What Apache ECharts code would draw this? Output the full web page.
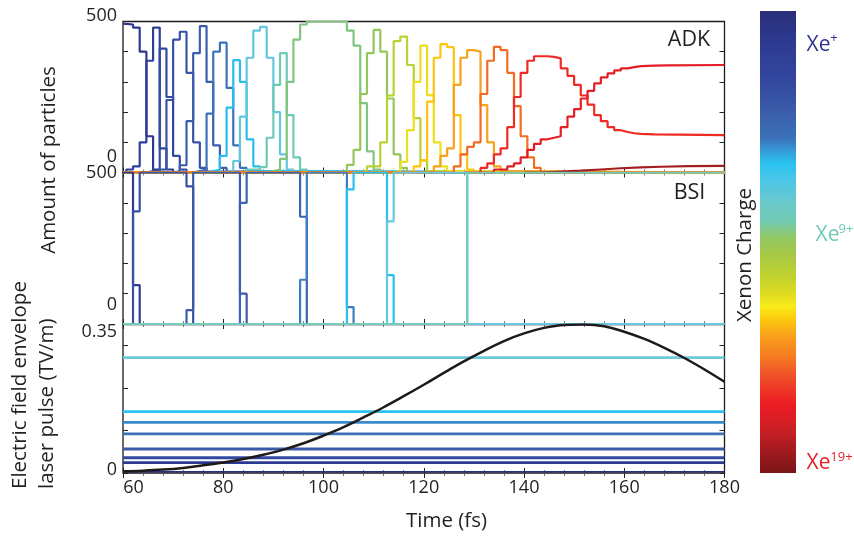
<!DOCTYPE html>
<html><head><meta charset="utf-8">
<script src="https://cdn.jsdelivr.net/npm/echarts@6/dist/echarts.min.js"></script>
<style>html,body{margin:0;padding:0;background:#fff}#c{width:854px;height:537px}</style>
</head><body><div id="c"></div>
<script>
// ---------- DATA ----------
const timeTicks = [60, 80, 100, 120, 140, 160, 180];

// ADK populations (particles) of Xe charge states, [time fs, particles]
const adk1 = [[60,492],[60.67,490],[62,480],[63.33,400],[64.67,120],[66,10],[67.33,0],[180,0]];
const adk2 = [[60,0],[60.67,10],[62,20],[63.33,100],[64.67,370],[66,480],[67.33,80],[68.67,10],[70,0],[180,0]];
const adk3 = [[60,0],[64.67,5],[66,10],[67.33,410],[68.67,250],[70,55],[71.33,10],[72.67,0],[180,0]];
const adk4 = [[60,0],[67.33,10],[68.67,240],[70,440],[71.33,466],[72.67,330],[74,100],[75.33,15],[76.67,3],[78,0],[180,0]];
const adk5 = [[60,0],[70,5],[71.33,24],[72.67,170],[74,395],[75.33,485],[76.67,300],[78,90],[79.33,15],[80.67,2],[82,0],[180,0]];
const adk6 = [[60,0],[74,5],[75.33,10],[76.67,195],[78,400],[79.33,430],[80.67,280],[82,90],[83.33,15],[84.67,3],[86,0],[180,0]];
const adk7 = [[60,0],[76.67,5],[78,10],[79.33,55],[80.67,215],[82,372],[83.33,300],[84.67,110],[86,20],[87.33,5],[88.67,0],[180,0]];
const adk8 = [[60,0],[79.33,2],[80.67,5],[82,38],[83.33,185],[84.67,380],[86,470],[87.33,482],[88.67,380],[90,200],[91.33,60],[92.67,10],[94,0],[180,0]];
const adk9 = [[60,0],[83.33,3],[84.67,10],[87.33,18],[88.67,115],[90,290],[91.33,395],[92.67,190],[94,50],[95.33,10],[96.67,0],[180,0]];
const adk10 = [[60,0],[88.67,5],[90,10],[91.33,45],[92.67,300],[94,440],[95.33,490],[96.67,500],[104.67,470],[106,420],[107.33,230],[108.67,70],[110,10],[111.33,0],[180,0]];
const adk11 = [[60,0],[103.33,5],[104.67,25],[106,75],[107.33,260],[108.67,395],[110,472],[111.33,400],[112.67,245],[114,60],[115.33,15],[116.67,0],[180,0]];
const adk12 = [[60,0],[107.33,5],[108.67,20],[111.33,100],[112.67,255],[114,435],[115.33,450],[116.67,356],[118,180],[119.33,40],[120.67,5],[122,0],[180,0]];
const adk13 = [[60,0],[114,5],[115.33,35],[116.67,140],[118,300],[119.33,420],[120.67,256],[122,100],[123.33,20],[124.67,5],[126,0],[180,0]];
const adk14 = [[60,0],[116.67,4],[118,20],[119.33,40],[120.67,235],[122,380],[123.33,425],[124.67,415],[126,190],[127.33,60],[128.67,10],[130,0],[180,0]];
const adk15 = [[60,0],[120.67,5],[122,20],[123.33,55],[124.67,80],[126,290],[127.33,380],[128.67,405],[130,400],[131.33,223],[132.67,100],[134,20],[135.33,5],[136.67,0],[180,0]];
const adk16 = [[60,0],[126,20],[127.33,60],[128.67,85],[130,100],[131.33,260],[132.67,370],[134,416],[135.33,405],[136.67,330],[138,220],[139.33,120],[140.67,50],[142,15],[143.33,0],[180,0]];
const adk17 = [[128,0],[131.33,15],[132.67,30],[134,60],[135.33,80],[136.67,150],[138,250],[139.33,330],[140.67,370],[142,385],[144.67,383],[146,378],[147.33,345],[148.67,320],[150,290],[151.33,255],[152.67,225],[154,190],[155.33,170],[156.67,150],[158,140],[159.33,134],[160.67,130],[162,128],[163.33,126],[166,124],[180,124]];
const adk18 = [[131,0],[134,10],[136.67,20],[138,30],[139.33,50],[140.67,75],[142,95],[143.33,110],[144.67,115],[146,120],[147.33,150],[148.67,185],[150,210],[151.33,245],[152.67,270],[154,295],[155.33,315],[156.67,328],[158,338],[159.33,345],[160.67,349],[162,352],[163.33,354],[166,355],[168.67,356],[180,356]];
const adk19 = [[140,0],[143.33,3],[147.33,6],[151.33,10],[155.33,14],[159.33,17],[163.33,19],[167.33,21],[172.67,22],[180,22]];

// BSI populations
const bsi1 = [[60,500],[62,128],[63.33,0],[180,0]];
const bsi2 = [[60,0],[62,372],[63.33,500],[72.67,454],[74,0],[180,0]];
const bsi3 = [[60,0],[72.67,46],[74,500],[83.33,100],[84.67,0],[180,0]];
const bsi4 = [[60,0],[83.33,400],[84.67,500],[95.33,354],[96.67,0],[180,0]];
const bsi5 = [[60,0],[95.33,146],[96.67,500],[104.67,56],[106,0],[180,0]];
const bsi6 = [[60,0],[104.67,444],[106,500],[112.67,161],[114,0],[180,0]];
const bsi7 = [[60,0],[112.67,339],[114,500],[128.67,0],[180,0]];
const bsi8 = [[60,0],[128.67,500],[180,500]];

// Electric field envelope (TV/m)
const fieldEnvelope = [[60,0.004],[64,0.0055],[68,0.008],[72,0.012],[76,0.018],[80,0.025],[84,0.033],[88,0.043],[92,0.055],[96,0.070],[100,0.088],[104,0.108],[108,0.131],[112,0.155],[116,0.181],[120,0.208],[124,0.236],[128,0.263],[132,0.288],[136,0.311],[140,0.329],[144,0.342],[148,0.349],[152,0.350],[156,0.346],[160,0.333],[164,0.316],[168,0.295],[172,0.271],[176,0.244],[180,0.215]];

// BSI threshold field levels (TV/m)
const thresholds = [0.272, 0.1445, 0.1195, 0.092, 0.0566, 0.036, 0.0243, 0.003];

// ---------- STYLE ----------
const adkCurves = [adk1,adk2,adk3,adk4,adk5,adk6,adk7,adk8,adk9,adk10,adk11,adk12,adk13,adk14,adk15,adk16,adk17,adk18,adk19];
const adkColors = ['#2b3990','#2e3f97','#3349a0','#3853a5','#3a5eab','#3b72b8','#29bdee','#63c6df','#6ec9b6','#80c57e','#94c75a','#b8d233','#ece01c','#fcc40f','#f8a01b','#f36c21','#ee2a25','#e21f26','#a31d21'];
const bsiCurves = [bsi1,bsi2,bsi3,bsi4,bsi5,bsi6,bsi7,bsi8];
const bsiColors = ['#2e3a91','#3850a3','#3b5aa9','#3c63af','#3a7fc2','#2bbfee','#66c7e0','#72cbbb'];
const thresholdColors = ['#6ccadd','#2cc2ef','#3a8bcb','#3d6eb6','#3b5aa8','#3349a0','#2b3990','#262f80'];

const FONT = "'Open Sans', 'Noto Sans', sans-serif";
const TXT = '#231f20';

const grids = [
  {left:123, right:129.5, top:21.5, height:151},
  {left:123, right:129.5, top:172.5, height:151.5},
  {left:123, right:129.5, top:324.5, height:148.5}
].map(g => Object.assign(g, {show:true, borderColor:'#1a1a1a', borderWidth:1.3, backgroundColor:'transparent'}));

function xAxisFor(gi, pos, labels) {
  return {
    type:'value', gridIndex:gi, position:pos, min:60, max:180, interval:20,
    axisLine:{show:false}, splitLine:{show:false},
    axisTick:{show:true, inside:true, length:5, lineStyle:{color:'#222', width:1}},
    minorTick:{show:true, splitNumber:5, length:3, lineStyle:{color:'#555', width:0.8}},
    axisLabel:{show:labels, margin:6, color:TXT, fontFamily:FONT, fontSize:18,
      formatter: v => v === timeTicks[0] ? '{l|60}' : String(v),
      rich:{l:{padding:[0,0,0,21], fontFamily:FONT, fontSize:18, color:TXT}}}
  };
}
function yAxisFor(gi, pos, max, interval, labels, fmt, rich) {
  return {
    type:'value', gridIndex:gi, position:pos, min:0, max:max, interval:interval,
    axisLine:{show:false}, splitLine:{show:false},
    axisTick:{show:true, inside:true, length:5, lineStyle:{color:'#222', width:1}},
    axisLabel:{show:labels, margin:6, color:TXT, fontFamily:FONT, fontSize:18,
      showMinLabel:true, showMaxLabel:true, formatter:fmt, rich:rich}
  };
}
const r = (p) => ({padding:p, fontFamily:FONT, fontSize:18, color:TXT});

const xAxes = [
  xAxisFor(0,'bottom',false), xAxisFor(0,'top',false),
  xAxisFor(1,'bottom',false), xAxisFor(1,'top',false),
  xAxisFor(2,'bottom',true),  xAxisFor(2,'top',false)
];
const yAxes = [
  yAxisFor(0,'left',500,100,true, v => v===500?'{a|500}':(v===0?'{b|0}':''), {a:r([0,0,11,0]), b:r([0,0,31,0])}),
  yAxisFor(0,'right',500,100,false),
  yAxisFor(1,'left',500,100,true, v => v===500?'{a|500}':(v===0?'{b|0}':''), {a:r([0,0,0,0]), b:r([0,0,39,0])}),
  yAxisFor(1,'right',500,100,false),
  yAxisFor(2,'left',0.35,0.1,true, v => Math.abs(v-0.35)<1e-6?'{a|0.35}':(v===0?'{b|0}':''), {a:r([14,0,0,0]), b:r([0,0,6,0])}),
  yAxisFor(2,'right',0.35,0.1,false)
];

const series = [];
adkCurves.forEach((d,i) => series.push({type:'line', step:'end', data:d, xAxisIndex:0, yAxisIndex:0,
  showSymbol:false, symbol:'none', lineStyle:{width:2.2, color:adkColors[i]}, itemStyle:{color:adkColors[i]}, silent:true}));
bsiCurves.forEach((d,i) => series.push({type:'line', step:'end', data:d, xAxisIndex:2, yAxisIndex:2,
  showSymbol:false, symbol:'none', lineStyle:{width:2.2, color:bsiColors[i]}, itemStyle:{color:bsiColors[i]}, silent:true}));
thresholds.forEach((v,i) => series.push({type:'line', data:[[60,v],[180,v]], xAxisIndex:4, yAxisIndex:4,
  showSymbol:false, symbol:'none', lineStyle:{width: i===thresholds.length-1?1.6:2.8, color:thresholdColors[i]}, silent:true}));
series.push({type:'line', data:fieldEnvelope, smooth:0.4, xAxisIndex:4, yAxisIndex:4,
  showSymbol:false, symbol:'none', lineStyle:{width:2.5, color:'#1f1a17'}, silent:true});

const cbStops = [
  [0.00,'#2a2e78'],[0.07,'#2d3a92'],[0.15,'#33479e'],[0.21,'#3a5aa8'],[0.275,'#3b72b8'],[0.30,'#3696d6'],
  [0.33,'#2ac2f0'],[0.37,'#4fc6e6'],[0.42,'#6ccac8'],[0.455,'#72cbb3'],[0.49,'#91c864'],[0.53,'#a7c943'],
  [0.586,'#c8d42a'],[0.62,'#e6df1e'],[0.64,'#f8eb18'],[0.67,'#fcc60f'],[0.707,'#f89c1c'],[0.745,'#f57e20'],
  [0.78,'#f05a29'],[0.816,'#ee3a26'],[0.853,'#ec1c24'],[0.91,'#c81f25'],[0.96,'#9a1a1e'],[1.00,'#7b1517']
];

const T = (text, x, y, size, color, extra) => Object.assign({type:'text', x:x, y:y, silent:true,
  style:{text:text, fill:color||TXT, fontFamily:FONT, fontSize:size, align:'center', verticalAlign:'middle'}}, extra||{});

const graphics = [
  {type:'rect', shape:{x:760, y:11, width:36, height:462}, silent:true,
   style:{fill:new echarts.graphic.LinearGradient(0,0,0,1, cbStops.map(s=>({offset:s[0], color:s[1]})))}},
  T('Amount of particles', 49, 160, 20.5, TXT, {rotation:Math.PI/2}),
  T('Electric field envelope', 20, 489, 20.5, TXT, {rotation:Math.PI/2}),
  T('laser pulse (TV/m)', 47.5, 489, 20.5, TXT, {rotation:Math.PI/2}),
  T('Time (fs)', 446.5, 521, 20.5),
  T('ADK', 689, 40, 21.5),
  T('BSI', 689.5, 193, 21.5),
  T('Xenon Charge', 745, 255, 20.5, TXT, {rotation:Math.PI/2}),
  T('Xe', 818.5, 45, 21, '#2e3192'), T('+', 834, 38, 13, '#2e3192'),
  T('Xe', 827.5, 235, 21, '#6fcbb5'), T('9+', 846, 229, 13, '#6fcbb5'),
  T('Xe', 818.5, 463.5, 21, '#e42128'), T('19+', 841.5, 457, 13, '#e42128')
];
graphics[2].style.align = 'left';
graphics[3].style.align = 'left';

const chart = echarts.init(document.getElementById('c'), null, {renderer:'canvas'});
chart.setOption({
  animation:false,
  backgroundColor:'#ffffff',
  grid:grids,
  xAxis:xAxes,
  yAxis:yAxes,
  series:series,
  graphic:graphics
});
</script>
</body></html>
